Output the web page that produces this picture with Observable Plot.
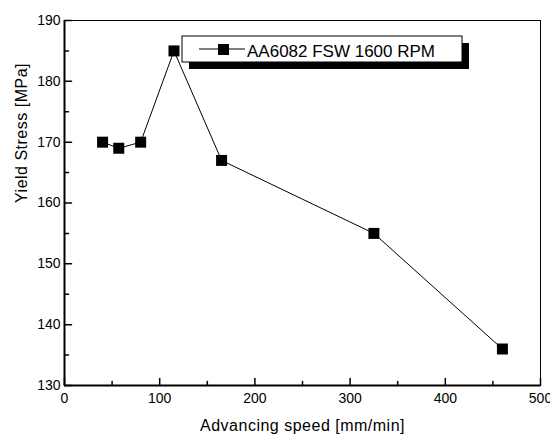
<!DOCTYPE html>
<html>
<head>
<meta charset="utf-8">
<script src="https://cdn.jsdelivr.net/npm/d3@7"></script>
<script src="https://cdn.jsdelivr.net/npm/@observablehq/plot@0.6"></script>
<style>
  html, body { margin: 0; padding: 0; background: #fff; }
  #chart { width: 550px; height: 436px; }
  svg { font-family: "Liberation Sans", Arial, sans-serif; }
  .axis-title { letter-spacing: 0.5px; }
</style>
</head>
<body>
<div id="chart"></div>
<script>
// Data
const speed = [40, 57, 80, 115, 165, 325, 460];           // Advancing speed [mm/min]
const yieldStress = [170, 169, 170, 185, 167, 155, 136];  // Yield stress [MPa]
const seriesName = "AA6082 FSW 1600 RPM";
const xMajorTicks = [0, 100, 200, 300, 400, 500];
const xMinorTicks = [50, 150, 250, 350, 450];
const yMajorTicks = [130, 140, 150, 160, 170, 180, 190];
const yMinorTicks = [135, 145, 155, 165, 175, 185];
const xTitle = "Advancing speed [mm/min]";
const yTitle = "Yield Stress [MPa]";

const data = speed.map((s, i) => ({speed: s, stress: yieldStress[i]}));

// straight tick shape for inward ticks
const tickShape = {draw(context, l) { context.moveTo(0, 0); context.lineTo(0, -l); }};

const chart = Plot.plot({
  width: 550,
  height: 436,
  marginLeft: 64,
  marginRight: 10,
  marginTop: 20,
  marginBottom: 51,
  style: {background: "#fff", color: "#000", fontFamily: "'Liberation Sans', Arial, sans-serif"},
  x: {domain: [0, 500]},
  y: {domain: [130, 190]},
  marks: [
    Plot.frame({stroke: "#000", strokeWidth: 1}),
    Plot.ruleY([130], {stroke: "#000", strokeWidth: 2}),
    Plot.ruleX([0], {stroke: "#000", strokeWidth: 2}),
    // inward ticks
    Plot.vector(xMajorTicks, {x: d => d, frameAnchor: "bottom", length: 7, rotate: 0, anchor: "start", shape: tickShape, stroke: "#000", strokeWidth: 1.5}),
    Plot.vector(xMinorTicks, {x: d => d, frameAnchor: "bottom", length: 4, rotate: 0, anchor: "start", shape: tickShape, stroke: "#000", strokeWidth: 1.5}),
    Plot.vector(yMajorTicks, {y: d => d, frameAnchor: "left", length: 7, rotate: 90, anchor: "start", shape: tickShape, stroke: "#000", strokeWidth: 1.5}),
    Plot.vector(yMinorTicks, {y: d => d, frameAnchor: "left", length: 4, rotate: 90, anchor: "start", shape: tickShape, stroke: "#000", strokeWidth: 1.5}),
    // tick labels
    Plot.axisX({ticks: xMajorTicks, tickSize: 0, tickPadding: 8, label: null, fontSize: 14, tickFormat: d3.format("d")}),
    Plot.axisY({ticks: yMajorTicks, tickSize: 0, tickPadding: 4, label: null, fontSize: 14, tickFormat: d3.format("d")}),
    // axis titles
    Plot.text([xTitle], {frameAnchor: "bottom", dy: 45, text: d => d, fontSize: 16, lineAnchor: "bottom", className: "axis-title"}),
    Plot.text([yTitle], {frameAnchor: "left", dx: -43, rotate: -90, text: d => d, fontSize: 16, className: "axis-title"}),
    // data
    Plot.line(data, {x: "speed", y: "stress", stroke: "#000", strokeWidth: 1}),
    Plot.dot(data, {x: "speed", y: "stress", symbol: "square", r: 6.2, fill: "#000", stroke: "none"})
  ]
});

document.getElementById("chart").appendChild(chart);

// Legend box with drop shadow (pixel layout)
const svg = d3.select(chart);
const lg = svg.append("g").attr("class", "legend").attr("text-anchor", "start");
const bx = 182, by = 36, bw = 280, bh = 26, sh = 7;
lg.append("rect").attr("x", bx + sh).attr("y", by + sh).attr("width", bw).attr("height", bh).attr("fill", "#000");
lg.append("rect").attr("x", bx).attr("y", by).attr("width", bw).attr("height", bh).attr("fill", "#fff").attr("stroke", "#000").attr("stroke-width", 1);
lg.append("line").attr("x1", bx + 17).attr("x2", bx + 63).attr("y1", by + 13).attr("y2", by + 13).attr("stroke", "#000").attr("stroke-width", 1.2);
lg.append("rect").attr("x", bx + 36).attr("y", by + 8).attr("width", 11).attr("height", 11).attr("fill", "#000");
lg.append("text").attr("x", bx + 65).attr("y", by + 21).attr("font-size", 17).attr("fill", "#000").text(seriesName);
</script>
</body>
</html>
